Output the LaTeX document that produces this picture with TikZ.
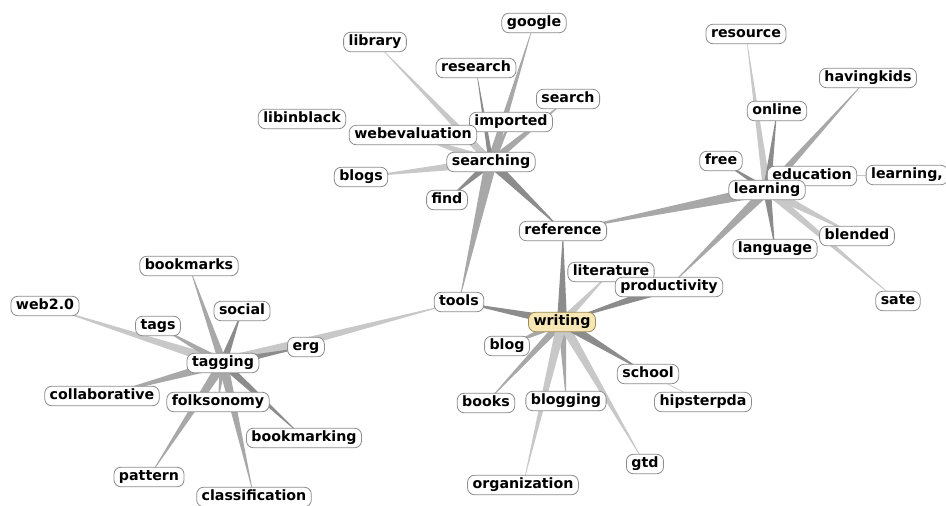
\documentclass[tikz,border=0pt]{standalone}
\usepackage{fontspec}
\setmainfont{DejaVu Sans}
\usetikzlibrary{calc}
\pgfdeclarelayer{bg}
\pgfdeclarelayer{edges}
\pgfsetlayers{bg,edges,main}
\definecolor{dk}{HTML}{8C8C8C}
\definecolor{md}{HTML}{A8A8A8}
\definecolor{lt}{HTML}{C8C8C8}
\definecolor{hubfill}{HTML}{F7E7B5}
\definecolor{hubdraw}{HTML}{9C8A55}
\tikzset{
  tag/.style={draw=black!45, fill=white, rounded corners=7pt, line width=0.8pt,
    inner xsep=5pt, inner ysep=3pt, font=\fontsize{14.2}{15}\selectfont\bfseries,
    text height=10.5pt, text depth=3pt},
  hubtag/.style={tag, fill=hubfill, draw=hubdraw},
  thinedge/.style={draw=lt, line width=0.7pt}
}
\newcommand\wdg[4]{\fill[#4] ($(#1.center)!#3!90:(#2.center)$) -- ($(#1.center)!#3!-90:(#2.center)$) -- (#2.center) -- cycle;}
\begin{document}
\begin{tikzpicture}[x=1pt,y=-1pt]
\useasboundingbox (0,0) rectangle (946,506);
% searching cluster
\node[tag] (google) at (534,23) {google};
\node[tag] (library) at (375,42) {library};
\node[tag] (research) at (476,68) {research};
\node[tag] (search) at (568,99) {search};
\node[tag] (libinblack) at (302,119) {libinblack};
\node[tag] (imported) at (511,122) {imported};
\node[tag] (webevaluation) at (413,135) {webevaluation};
\node[tag] (searching) at (491,162) {searching};
\node[tag] (blogs) at (361,177) {blogs};
\node[tag] (find) at (447,200) {find};
\node[tag] (reference) at (563,231) {reference};
% learning cluster
\node[tag] (resource) at (746,34) {resource};
\node[tag] (havingkids) at (868,78) {havingkids};
\node[tag] (online) at (777,111) {online};
\node[tag] (free) at (721,161) {free};
\node[tag] (education) at (812,176) {education};
\node[tag] (learningc) at (907,175) {learning,};
\node[tag] (learning) at (767,190) {learning};
\node[tag] (blended) at (857,236) {blended};
\node[tag] (language) at (775,249) {language};
\node[tag] (sate) at (898,301) {sate};
% writing cluster
\node[tag] (literature) at (611,272) {literature};
\node[tag] (productivity) at (669,287) {productivity};
\node[tag] (tools) at (459,302) {tools};
\node[hubtag] (writing) at (562,322) {writing};
\node[tag] (blog) at (507,346) {blog};
\node[tag] (school) at (648,374) {school};
\node[tag] (books) at (486,403) {books};
\node[tag] (blogging) at (566,401) {blogging};
\node[tag] (hipsterpda) at (703,402) {hipsterpda};
\node[tag] (gtd) at (645,464) {gtd};
\node[tag] (organization) at (523,485) {organization};
% tagging cluster
\node[tag] (bookmarks) at (189,266) {bookmarks};
\node[tag] (web20) at (45,306) {web2.0};
\node[tag] (social) at (242,311) {social};
\node[tag] (tags) at (158,326) {tags};
\node[tag] (erg) at (306,347) {erg};
\node[tag] (tagging) at (223,363) {tagging};
\node[tag] (collaborative) at (102,396) {collaborative};
\node[tag] (folksonomy) at (218,402) {folksonomy};
\node[tag] (bookmarking) at (304,438) {bookmarking};
\node[tag] (pattern) at (149,477) {pattern};
\node[tag] (classification) at (254,497) {classification};

\begin{pgfonlayer}{bg}
\fill[white] (0,0) rectangle (946,506);
\end{pgfonlayer}
\begin{pgfonlayer}{edges}
% searching
\wdg{searching}{google}{4pt}{md}
\wdg{searching}{library}{4pt}{lt}
\wdg{searching}{research}{2.5pt}{dk}
\wdg{searching}{search}{4pt}{md}
\wdg{searching}{imported}{4pt}{md}
\wdg{searching}{webevaluation}{5pt}{lt}
\wdg{searching}{blogs}{5pt}{lt}
\wdg{searching}{find}{4pt}{dk}
\wdg{searching}{reference}{5pt}{dk}
\wdg{searching}{tools}{6pt}{md}
% learning
\wdg{learning}{resource}{4pt}{lt}
\wdg{learning}{online}{4pt}{dk}
\wdg{learning}{havingkids}{4pt}{md}
\wdg{learning}{free}{3pt}{dk}
\wdg{learning}{education}{3pt}{md}
\wdg{learning}{blended}{5pt}{lt}
\wdg{learning}{sate}{4pt}{lt}
\wdg{learning}{language}{4pt}{dk}
\wdg{learning}{productivity}{5pt}{md}
\wdg{learning}{reference}{6pt}{md}
\draw[thinedge] (education) -- (learningc);
% writing
\wdg{writing}{reference}{5pt}{dk}
\wdg{writing}{literature}{4pt}{lt}
\wdg{productivity}{writing}{5pt}{dk}
\wdg{writing}{tools}{5pt}{dk}
\wdg{writing}{blog}{4pt}{md}
\wdg{writing}{books}{4pt}{md}
\wdg{writing}{blogging}{4pt}{md}
\wdg{writing}{organization}{5pt}{lt}
\wdg{writing}{gtd}{5pt}{lt}
\wdg{writing}{school}{5pt}{dk}
\draw[thinedge] (school) -- (hipsterpda);
% tagging
\wdg{tagging}{tools}{6pt}{lt}
\wdg{tagging}{bookmarks}{4pt}{md}
\wdg{tagging}{web20}{5pt}{lt}
\wdg{tagging}{social}{4pt}{dk}
\wdg{tagging}{tags}{4pt}{md}
\wdg{tagging}{erg}{4pt}{dk}
\wdg{tagging}{collaborative}{5pt}{md}
\wdg{tagging}{folksonomy}{3pt}{md}
\wdg{tagging}{bookmarking}{4pt}{dk}
\wdg{tagging}{pattern}{5pt}{md}
\wdg{tagging}{classification}{5pt}{md}
\end{pgfonlayer}
\end{tikzpicture}
\end{document}
